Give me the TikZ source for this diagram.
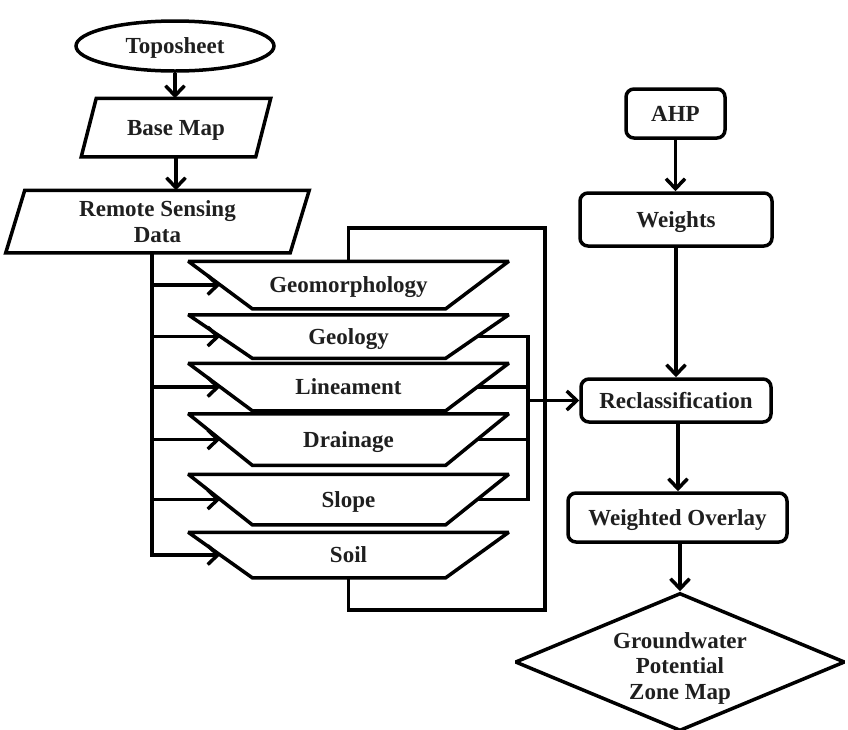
\documentclass[tikz,border=0pt]{standalone}
\usepackage{fontspec}
\setmainfont{Liberation Serif}
\usetikzlibrary{shapes.geometric,arrows.meta}
\begin{document}
\begin{tikzpicture}[x=1pt,y=-1pt,
  line width=3.5pt, line join=miter, miter limit=2.5,
  every node/.style={font=\fontsize{23}{25.5}\selectfont\bfseries, align=center, inner sep=0pt, text=black!88},
  one/.style={text height=15.5pt, text depth=0pt},
  arr/.style={-{Straight Barb[length=10pt,width=19pt]}},
  rbox/.style={draw, rectangle, rounded corners=8pt, one},
  layerbox/.style={rectangle, minimum width=317pt, one},
  parabox/.style={rectangle}
]
\useasboundingbox (0,0) rectangle (848,729);

% left column
\node[draw, ellipse, one, minimum width=198pt, minimum height=50pt] (topo) at (175,46) {Toposheet};
\node[parabox, one, minimum width=171pt, minimum height=55pt] (base) at (176,127.5) {Base Map};
\node[parabox, minimum width=281pt, minimum height=59pt] (rs) at (157.5,221.5) {Remote Sensing\\Data};
% parallelogram outlines
\draw ([xshift=7.5pt]base.north west) -- ([xshift=7.5pt]base.north east)
   -- ([xshift=-7.5pt]base.south east) -- ([xshift=-7.5pt]base.south west) -- cycle;
\draw ([xshift=9.5pt]rs.north west) -- ([xshift=9.5pt]rs.north east)
   -- ([xshift=-9.5pt]rs.south east) -- ([xshift=-9.5pt]rs.south west) -- cycle;

% thematic layers
\node[layerbox, minimum height=44pt] (geom)  at (348.5,285)   {Geomorphology};
\node[layerbox, minimum height=40pt] (geol)  at (348.5,336.5) {Geology};
\node[layerbox, minimum height=44pt] (lin)   at (348.5,387)   {Lineament};
\node[layerbox, minimum height=48pt] (drain) at (348.5,439.5) {Drainage};
\node[layerbox, minimum height=47pt] (slope) at (348.5,499.5) {Slope};
\node[layerbox, minimum height=42pt] (soil)  at (348.5,555)   {Soil};
\foreach \n in {geom,geol,lin,drain,slope,soil}{
  \draw (\n.north west) -- (\n.north east) -- ([xshift=-63pt]\n.south east)
     -- ([xshift=64pt]\n.south west) -- cycle;
}

% right column
\node[rbox, minimum width=99pt,  minimum height=49pt] (ahp)  at (675.5,113.5) {AHP};
\node[rbox, minimum width=192pt, minimum height=53pt] (wts)  at (676,219.5)   {Weights};
\node[rbox, minimum width=190pt, minimum height=43pt] (rec)  at (676,400.5)   {Reclassification};
\node[rbox, minimum width=219pt, minimum height=49pt] (wo)   at (677.5,517.5) {Weighted Overlay};
\node[draw, diamond, aspect=2.39, minimum width=330pt, minimum height=138pt] (gw) at (680,662) {};
\node (gwt) at (680,668) {Groundwater\\Potential\\Zone Map};

% helper coordinates
\coordinate (tr) at (152,0);
\coordinate (rb) at (528,0);
\coordinate (lt) at (545,228);
\coordinate (lbot) at (545,610);

% connectors, left column
\draw[arr] (topo.south) -- (topo.south |- base.north);
\draw[arr] (base.south) -- (base.south |- rs.north);

% trunk from Remote Sensing Data
\draw[arr] (rs.south -| tr) |- ([xshift=32pt]soil.west);
\foreach \n in {geom,geol,lin,drain,slope}{
  \draw[arr] (\n.west -| tr) -- ([xshift=32pt]\n.west);
}

% loop from Geomorphology to Soil
\draw (geom.north) |- (lt) -- (lbot) -| (soil.south);

% right bus
\draw ([xshift=-31pt]geol.east) -- (geol.east -| rb) -- (slope.east -| rb) -- ([xshift=-31pt]slope.east);
\draw ([xshift=-31pt]lin.east) -- (lin.east -| rb);
\draw ([xshift=-31pt]drain.east) -- (drain.east -| rb);
\draw[arr] (rec.west -| rb) -- (rec.west);

% right column connectors
\draw[arr] (ahp.south) -- (ahp.south |- wts.north);
\draw[arr] (wts.south) -- (wts.south |- rec.north);
\draw[arr] ([xshift=2pt]rec.south) -- ([xshift=2pt]rec.south |- wo.north);
\draw[arr] ([xshift=2.5pt]wo.south) -- (gw.north);
\end{tikzpicture}
\end{document}
